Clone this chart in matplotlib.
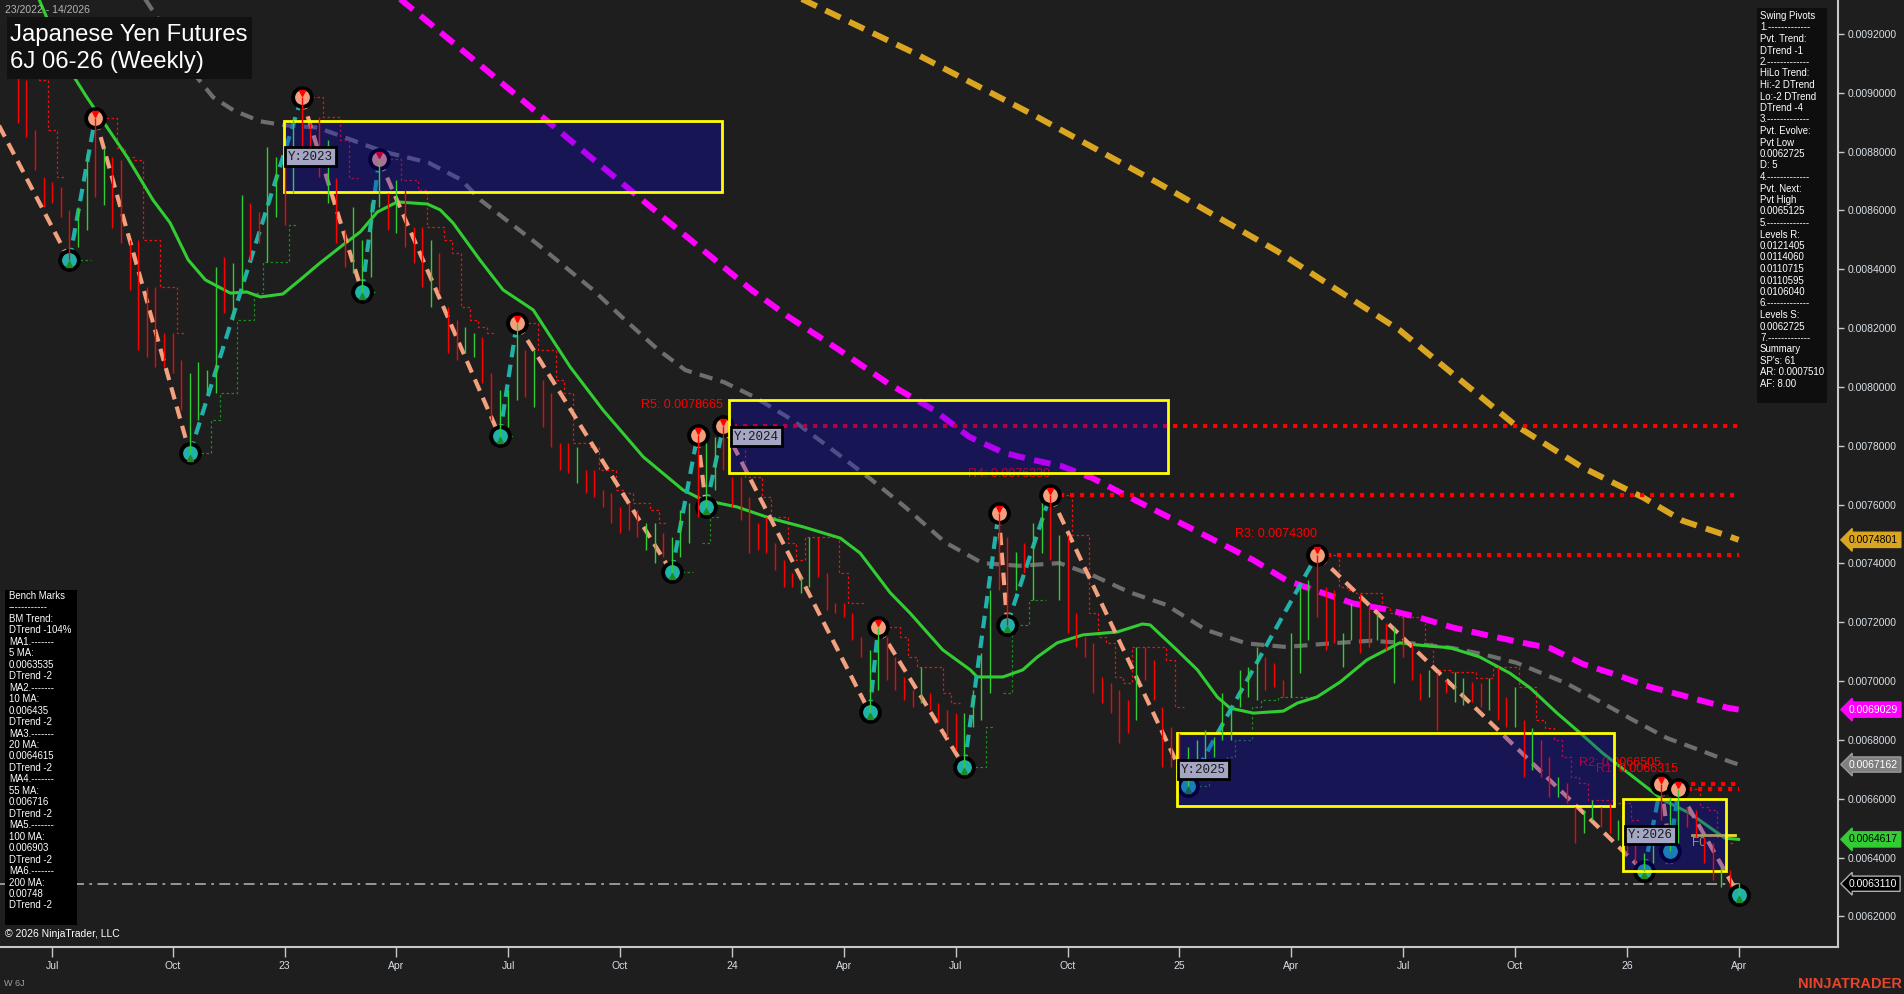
import numpy as np
import pandas as pd
import matplotlib
matplotlib.use("Agg")
import matplotlib.pyplot as plt
from matplotlib.patches import Rectangle

plt.rcParams['font.family'] = ['Liberation Sans', 'DejaVu Sans']

# all prices in millionths (7866.5 -> 0.0078665); week 0 = first week of Jul 2022
first_week = -4
bar_high = [
    9077.6, 9043.6, 8873.6, 8713.8,
    8696.8, 8679.8, 8601.6, 8611.8, 8795.4, 8915.0, 8812.4, 8781.8, 8771.6, 8499.6,
    8499.6, 8339.8, 8339.8, 8183.4, 8183.4, 8091.6, 8047.4, 8084.8, 8057.6, 8407.8,
    8441.8, 8421.4, 8652.6, 8625.4, 8594.8, 8815.8, 8781.8, 8771.6, 8907.6, 8985.0,
    8897.4, 8917.8, 8839.6, 8710.4, 8533.6, 8611.8, 8499.6, 8625.4, 8774.0, 8659.4,
    8703.6, 8669.6, 8543.8, 8543.8, 8499.6, 8455.4, 8271.8, 8227.6, 8203.8, 8183.4,
    8169.8, 8047.4, 7989.6, 7989.6, 8217.0, 8125.6, 8125.6, 8023.6, 7979.4, 7809.4,
    7809.4, 7795.8, 7717.6, 7717.6, 7649.6, 7639.4, 7591.8, 7605.4, 7581.6, 7537.4,
    7537.4, 7503.4, 7489.8, 7581.6, 7605.4, 7836.0, 7809.4, 7829.8, 7866.5, 7693.8,
    7693.8, 7625.8, 7537.4, 7557.8, 7469.4, 7411.6, 7367.4, 7353.8, 7489.8, 7489.8,
    7367.4, 7265.4, 7265.4, 7231.4, 7149.8, 7105.6, 7184.0, 7149.8, 7081.8, 7013.8,
    6969.6, 7047.8, 6959.4, 6925.4, 6901.6, 6891.4, 6891.4, 6969.6, 7095.4, 7309.6,
    7572.0, 7489.8, 7438.8, 7469.4, 7537.4, 7605.4, 7633.0, 7496.6, 7496.6, 7231.4,
    7149.8, 7129.4, 7013.8, 6993.4, 6969.6, 6935.6, 7115.8, 7115.8, 7071.6, 6911.8,
    6843.8, 6823.4, 6775.8, 6799.6, 6833.6, 6809.8, 6959.4, 6911.8, 7037.6, 7047.8,
    7115.8, 7081.8, 7061.4, 7003.6, 7163.4, 7319.8, 7343.6, 7430.0, 7319.8, 7309.6,
    7163.4, 7265.4, 7299.4, 7251.8, 7231.4, 7197.4, 7183.8, 7217.8, 7129.4, 7027.4,
    7037.6, 7027.4, 7003.6, 7030.8, 7010.4, 6996.8, 6993.4, 7010.4, 7047.8, 6945.8,
    6979.8, 6867.6, 6840.4, 6799.6, 6741.8, 6673.8, 6653.4, 6571.8, 6561.6, 6595.6,
    6571.8, 6585.4, 6527.6, 6503.8, 6459.6, 6415.4, 6483.4, 6650.5, 6605.8, 6631.5,
    6571.8, 6561.6, 6469.8, 6449.4, 6367.8, 6357.6, 6313.4,
]
bar_low = [
    8897.4, 8849.8, 8737.6, 8611.8,
    8625.4, 8577.8, 8431.0, 8475.8, 8533.6, 8645.8, 8618.6, 8540.4, 8489.4, 8329.6,
    8125.6, 8101.8, 8067.8, 8067.8, 8047.4, 7921.6, 7774.0, 7887.6, 7979.4, 7979.4,
    8251.4, 8227.6, 8319.4, 8431.6, 8489.4, 8424.8, 8577.8, 8550.6, 8659.4, 8771.6,
    8761.4, 8713.8, 8625.4, 8489.4, 8407.8, 8387.4, 8324.0, 8373.8, 8611.8, 8533.6,
    8523.4, 8475.8, 8421.4, 8339.8, 8271.8, 8319.4, 8115.4, 8091.6, 8115.4, 8101.8,
    8013.4, 7887.6, 7832.0, 7863.8, 7955.6, 7965.8, 7931.8, 7863.8, 7795.8, 7717.6,
    7707.4, 7673.4, 7639.4, 7625.8, 7591.8, 7537.4, 7503.4, 7513.6, 7489.8, 7445.6,
    7401.4, 7421.8, 7370.0, 7421.8, 7469.4, 7557.8, 7593.0, 7649.6, 7717.6, 7591.8,
    7547.6, 7435.4, 7445.6, 7435.4, 7377.6, 7319.8, 7319.8, 7299.4, 7319.8, 7353.8,
    7241.6, 7231.4, 7217.8, 7139.6, 7081.8, 6894.0, 6969.6, 7003.6, 6969.6, 6935.6,
    6911.8, 6925.4, 6901.6, 6857.4, 6809.8, 6765.6, 6708.0, 6843.8, 6867.6, 6959.4,
    7309.6, 7192.0, 7309.6, 7367.4, 7275.6, 7435.4, 7411.6, 7275.6, 7163.4, 7115.8,
    7081.8, 6959.4, 6925.4, 6891.4, 6789.4, 6823.4, 6867.6, 7003.6, 6935.6, 6707.8,
    6707.8, 6721.4, 6642.0, 6687.4, 6707.8, 6741.8, 6799.6, 6799.6, 6911.8, 6945.8,
    6935.6, 6969.6, 6979.8, 6945.8, 6945.8, 7027.4, 7139.6, 7217.8, 7105.6, 7129.4,
    7047.8, 7139.6, 7095.4, 7115.8, 7139.6, 7105.6, 6993.4, 7081.8, 7003.6, 6935.6,
    6945.8, 6833.6, 6959.4, 6928.8, 6918.6, 6928.8, 6911.8, 6901.6, 6867.6, 6843.8,
    6843.8, 6673.8, 6697.6, 6673.8, 6605.8, 6605.8, 6585.4, 6449.4, 6483.4, 6527.6,
    6503.8, 6483.4, 6459.6, 6415.4, 6381.4, 6353.0, 6381.4, 6527.6, 6423.0, 6449.4,
    6503.8, 6469.8, 6381.4, 6323.6, 6299.6, 6299.6, 6272.5,
]
# r = down week, g = up week
bar_dir = ("rrrr" "rrrggrgrrr" "rrrrrrgggg" "rggrrggrgr" "rrgrrggggr" "grrrgrrrgg"
           "rrgggrgrrr" "rgrrrrrrrg" "grgggrggrr" "rrrrrrrggr" "rrrrrggrrr"
           "rgrrrrgggg" "rrgrggrgrr" "rrrrrrgrrr" "rrgggggggg" "grrrgggrrr"
           "ggrrgrgrrr" "grrggrrgrr" "grgrrgrrgg" "rrgrrggrgg" "rrrrgrg")

# swing pivots, alternating high / low
piv_week = [-8, 2, 5, 16, 29, 36, 38, 52, 54, 72, 75, 76, 78, 95, 96, 106, 110, 111,
            116, 132, 147, 185, 187, 188, 189, 196]
piv_price = [8990, 8431, 8915, 7774, 8985, 8324, 8774, 7832, 8217, 7370, 7836, 7593,
             7866.5, 6894, 7184, 6708, 7572, 7192, 7633, 6642, 7430, 6353, 6650.5,
             6423, 6631.5, 6272.5]

# moving averages
ma20_week = [-2.0, 1.8, 4.0, 8.7, 11.7, 13.7, 15.8, 17.8, 20.7, 22.6, 24.2, 26.8, 28.8,
             31.1, 33.8, 35.8, 37.8, 40.1, 43.6, 45.1, 46.6, 49.7, 52.4, 55.9, 60.2, 64.0,
             68.7, 73.3, 75.6, 79.6, 83.4, 87.3, 91.6, 93.9, 97.4, 99.7, 103.5, 106.7,
             107.5, 110.5, 112.8, 114.5, 116.8, 119.8, 123.8, 126.7, 127.6, 130.7, 133.1,
             135.4, 136.9, 139.6, 143.1, 144.7, 147.0, 149.7, 152.8, 156.6, 158.6, 162.5,
             165.9, 169.4, 171.8, 174.9, 177.6, 180.2, 184.2, 187.2, 190.3, 194.4, 196]
ma20_val = [9350, 9088, 8986, 8782, 8636, 8558, 8432, 8364, 8319, 8323, 8306, 8316, 8364,
            8421, 8483, 8527, 8595, 8629, 8622, 8602, 8557, 8432, 8330, 8262, 8068, 7922,
            7762, 7650, 7616, 7592, 7554, 7524, 7486, 7435, 7300, 7231, 7106, 7038,
            7014, 7014, 7038, 7082, 7130, 7157, 7167, 7194, 7191, 7106, 7038,
            6946, 6908, 6891, 6898, 6925, 6946, 6997, 7072, 7130, 7123, 7113,
            7082, 7027, 6976, 6891, 6823, 6755, 6664, 6596, 6551, 6466, 6461.7]
ma55_week = [9.5, 16.4, 18.7, 21.1, 24.2, 26.9, 30.8, 34.7, 38.5, 43.7, 47.5, 49.8, 56.2,
             62.9, 66.2, 70.4, 73.6, 78.1, 81.6, 86.0, 90.2, 95.2, 99.2, 103.8, 106.9,
             108.1, 112.4, 117.1, 120.9, 125.2, 129.4, 134.1, 138.8, 143.4, 148.5, 153.2,
             158.1, 162.8, 166.3, 170.2, 176.0, 179.9, 183.7, 187.7, 191.5, 194.8, 196]
ma55_val = [9377, 9068, 8985, 8940, 8903, 8890, 8882, 8841, 8800, 8763, 8705, 8635, 8490,
            8329, 8238, 8127, 8057, 8016, 7966, 7888, 7797, 7685, 7590, 7471, 7421,
            7401, 7392, 7401, 7360, 7302, 7260, 7174, 7128, 7116, 7128, 7137,
            7128, 7112, 7091, 7062, 6992, 6930, 6868, 6806, 6765, 6728, 6716.2]
ma100_week = [39.2, 50.5, 61.8, 71.7, 81.3, 85.6, 91.4, 97.2, 102.5, 106.6, 110.6, 114.1,
              117.3, 120.9, 127.2, 131.7, 135.6, 139.5, 143.4, 147.4, 151.2, 155.0, 159.0,
              162.8, 166.6, 170.6, 174.1, 177.9, 181.8, 185.7, 189.5, 194.6, 196]
ma100_val = [9349, 9076, 8800, 8560, 8329, 8238, 8127, 8011, 7921, 7830, 7776, 7751,
             7731, 7690, 7595, 7529, 7471, 7413, 7343, 7302, 7264, 7244, 7215,
             7182, 7157, 7132, 7112, 7058, 7021, 6980, 6951, 6910, 6902.9]
ma200_week = [85.9, 100, 114.1, 128.3, 142.4, 156.6, 170.0, 177.8, 184.9, 189.5, 194.6, 196]
ma200_val = [9336, 9138, 8924, 8697, 8461, 8193, 7871, 7727, 7624, 7545, 7495, 7480.1]

# resistance levels
lvl_name = ['R5', 'R4', 'R3', 'R2', 'R1']
lvl_week = [78, 116, 147, 187, 189]
lvl_price = [7866.5, 7633.0, 7430.0, 6650.5, 6631.5]

# yearly boxes
box_name = ['Y:2023', 'Y:2024', 'Y:2025', 'Y:2026']
box_w0 = [26.9, 78.7, 130.7, 182.6]
box_w1 = [77.9, 129.7, 181.5, 194.5]
box_lo = [8663, 7707, 6575, 6354]
box_hi = [8904, 7956, 6823, 6599]

last_close = 6311.0
f0_price = 6477.0

tag_val = [7480.1, 6902.9, 6716.2, 6461.7, 6311.0]
tag_fc = ['#DAA520', '#FF00FF', '#7F7F7F', '#32CD32', '#000000']
tag_tc = ['black', 'white', 'white', 'black', 'white']
tag_ec = ['#DAA520', '#FF00FF', '#9A9A9A', '#32CD32', '#B0B0B0']

swing_text = ["Swing Pivots", "1.-------------", "Pvt. Trend:", "DTrend -1", "2.-------------",
              "HiLo Trend:", "Hi:-2 DTrend", "Lo:-2 DTrend", "DTrend -4", "3.-------------",
              "Pvt. Evolve:", "Pvt Low", "0.0062725", "D: 5", "4.-------------",
              "Pvt. Next:", "Pvt High", "0.0065125", "5.-------------", "Levels R:",
              "0.0121405", "0.0114060", "0.0110715", "0.0110595", "0.0106040",
              "6.-------------", "Levels S:", "0.0062725", "7.-------------", "Summary",
              "SP's: 61", "AR: 0.0007510", "AF: 8.00"]
bench_text = ["Bench Marks", "------------", "BM Trend:", "DTrend -104%", "MA1.-------",
              "5 MA:", "0.0063535", "DTrend -2", "MA2.-------", "10 MA:", "0.006435",
              "DTrend -2", "MA3.-------", "20 MA:", "0.0064615", "DTrend -2", "MA4.-------",
              "55 MA:", "0.006716", "DTrend -2", "MA5.-------", "100 MA:", "0.006903",
              "DTrend -2", "MA6.-------", "200 MA:", "0.00748", "DTrend -2"]

BG = '#1E1E1E'
W, H = 1904, 994
fig = plt.figure(figsize=(W / 100, H / 100), dpi=100, facecolor=BG)
ax = fig.add_axes([0, 47 / H, 1838 / W, 947 / H], facecolor=BG)
ax.set_xlim(-6.07, 207.55)
ax.set_ylim(6095.8, 9315.6)

x = np.arange(first_week, first_week + len(bar_high))
hi = np.array(bar_high)
lo = np.array(bar_low)
up = np.array([c == 'g' for c in bar_dir])

# leg direction: after a high pivot price is in a down leg
leg = np.zeros(len(x))
for i, w in enumerate(x):
    k = max(j for j, pw in enumerate(piv_week) if pw <= w)
    leg[i] = -1 if k % 2 == 0 else 1
red_step = pd.Series(hi).rolling(3, min_periods=1).max().where(leg < 0).values
green_step = pd.Series(lo).rolling(3, min_periods=1).min().where(leg > 0).values
ax.step(x, red_step, where='mid', color='#F01010', lw=0.9, ls=(0, (2, 2)), zorder=2)
ax.step(x, green_step, where='mid', color='#1C8C1C', lw=0.9, ls=(0, (2, 2)), zorder=2)

# moving averages
ax.plot(ma200_week, ma200_val, color='#DAA520', lw=4.3, ls=(0, (2.8, 1.6)), zorder=3)
ax.plot(ma100_week, ma100_val, color='#FF00FF', lw=4.3, ls=(0, (2.8, 1.6)), zorder=3)
ax.plot(ma55_week, ma55_val, color='#6E6E6E', lw=3.0, ls=(0, (3.2, 2)), zorder=3)
ax.plot(ma20_week, ma20_val, color='#32CD32', lw=2.2, zorder=3)

# last price line
ax.plot([-6.07, 196], [last_close, last_close], color='#A0A0A0', lw=1.3,
        ls=(0, (6, 3, 1.5, 3)), zorder=2)

# resistance levels
for name, w, p in zip(lvl_name, lvl_week, lvl_price):
    ax.plot([w, 196], [p, p], color='#FF0000', lw=3, ls=(0, (1, 1.4)), zorder=3)
    ax.annotate(f'{name}: {p / 1e6:.7f}', xy=(w, p), xytext=(0, 15), textcoords='offset points',
                ha='right', va='center', color='#FF0000', fontsize=9, zorder=3)

# zigzag
for k in range(len(piv_week) - 1):
    rising = k % 2 == 1
    ax.plot(piv_week[k:k + 2], piv_price[k:k + 2], color='#20B2AA' if rising else '#F2A07E',
            lw=3.0, ls=(0, (3, 1.8)), zorder=4, solid_capstyle='butt')
for k, (w, p) in enumerate(zip(piv_week, piv_price)):
    if w < first_week:
        continue
    high = k % 2 == 0
    ax.plot(w, p, 'o', ms=13.5, mfc='#F2A07E' if high else '#20B2AA', mec='black', mew=2.8, zorder=5)
    if w == 188:
        continue
    if high:
        ax.plot(w, p + 14, 'v', ms=5, color='#FF0000', zorder=5.1)
    else:
        ax.plot(w, p - 14, '^', ms=5, color='#1E8C1E', zorder=5.1)

# F0 line
ax.plot([190.6, 195.6], [f0_price, f0_price], color='#E6E032', lw=2, zorder=5)
ax.text(190.6, f0_price - 6, 'F0', ha='left', va='top', color='#E6D23C', fontsize=8.5, zorder=5)

# year boxes
for name, w0, w1, b0, b1 in zip(box_name, box_w0, box_w1, box_lo, box_hi):
    ax.add_patch(Rectangle((w0, b0), w1 - w0, b1 - b0, fc='#0D03D2', alpha=0.3, ec='none', zorder=6))
    ax.add_patch(Rectangle((w0, b0), w1 - w0, b1 - b0, fill=False, ec='#FFFF00', lw=2, zorder=7))
    ax.text(w0 + 0.5, (b0 + b1) / 2, name, ha='left', va='center', family='Liberation Mono',
            fontsize=9, color='#1A1A1A', zorder=9,
            bbox=dict(boxstyle='square,pad=0.25', fc='#A5A6C4', ec='black', lw=2))

# weekly bars
ax.vlines(x[up], lo[up], hi[up], color='#32CD32', lw=1.0, zorder=8)
ax.vlines(x[~up], lo[~up], hi[~up], color='#FF0000', lw=1.0, zorder=8)

# axes styling
for s in ['top', 'left']:
    ax.spines[s].set_visible(False)
for s in ['bottom', 'right']:
    ax.spines[s].set_color('#C8C8C8')
    ax.spines[s].set_linewidth(1.5)
ax.yaxis.tick_right()
yt = np.arange(6200, 9201, 200)
ax.set_yticks(yt)
ax.set_yticklabels([f'{v / 1e6:.7f}' for v in yt])
ax.tick_params(axis='y', colors='#C8C8C8', labelcolor='#D8DEE6', length=4, width=1,
               pad=3, labelsize=7.5)
# ticks sit on the first weekly bar (Fridays) of each quarter
base = pd.Timestamp('2022-07-01')
qs = pd.date_range('2022-07-01', '2026-04-01', freq='QS')
ax.set_xticks([np.ceil((q - base).days / 7) for q in qs])
ax.set_xticklabels([q.strftime('%y') if q.month == 1 else q.strftime('%b') for q in qs])
ax.tick_params(axis='x', colors='#C8C8C8', labelcolor='#D8DEE6', length=7, width=1,
               pad=3, labelsize=7.5)

# price tags at right
for v, fc, tc, ec in zip(tag_val, tag_fc, tag_tc, tag_ec):
    ax.annotate(f'{v / 1e6:.7f}', xy=(1.0, v), xycoords=('axes fraction', 'data'),
                xytext=(8, 0), textcoords='offset points', ha='left', va='center',
                fontsize=7.5, color=tc, zorder=12, annotation_clip=False,
                bbox=dict(boxstyle='larrow,pad=0.25', fc=fc, ec=ec, lw=1))


def fig_rect(x0, y0, x1, y1, color):
    fig.add_artist(Rectangle((x0 / W, 1 - y1 / H), (x1 - x0) / W, (y1 - y0) / H,
                             transform=fig.transFigure, fc=color, ec='none', zorder=20))


# title
fig_rect(7, 17, 252, 79, '#111111')
fig.text(10 / W, 1 - 35 / H, 'Japanese Yen Futures', color='white', fontsize=17.2,
         va='center', ha='left', zorder=21)
fig.text(10 / W, 1 - 62 / H, '6J 06-26 (Weekly)', color='white', fontsize=17.2,
         va='center', ha='left', zorder=21)
fig.text(5 / W, 1 - 10 / H, '23/2022 - 14/2026', color='#B4B4B4', fontsize=7.5,
         va='center', ha='left', zorder=21)

# swing pivots panel
fig_rect(1757, 8, 1827, 403, '#0E0E0E')
for i, s in enumerate(swing_text):
    fig.text(1760 / W, 1 - (16 + i * 11.5) / H, s, color='white', fontsize=6.9,
             va='center', ha='left', zorder=21)

# bench marks panel
fig_rect(5, 590, 77, 925, '#000000')
for i, s in enumerate(bench_text):
    fig.text(9 / W, 1 - (596 + i * 11.46) / H, s, color='white', fontsize=6.9,
             va='center', ha='left', zorder=21)

fig.text(5 / W, 1 - 934 / H, '\u00a9 2026 NinjaTrader, LLC', color='white', fontsize=7.5,
         va='center', ha='left', zorder=21)
fig.text(4 / W, 1 - 984 / H, 'W 6J', color='#A0A0A0', fontsize=6.5, va='center', ha='left')
fig.text(1902 / W, 1 - 984 / H, 'NINJATRADER', color='#E8452C', fontsize=10.5,
         fontweight='bold', va='center', ha='right')

fig.savefig('out.png', dpi=100, facecolor=BG)
